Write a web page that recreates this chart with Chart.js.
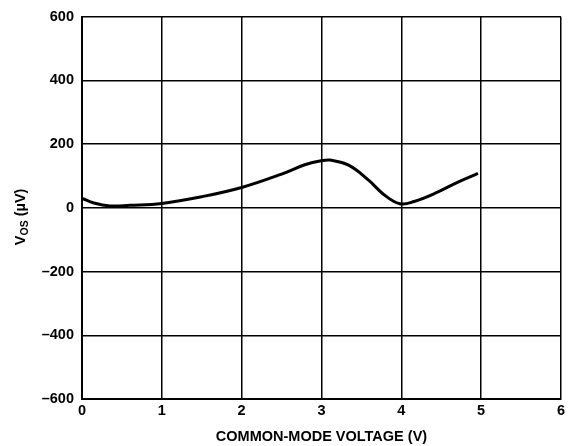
<!DOCTYPE html>
<html>
<head>
<meta charset="utf-8">
<script src="https://cdn.jsdelivr.net/npm/chart.js@4/dist/chart.umd.min.js"></script>
<style>
html,body{margin:0;padding:0;background:#fff;}
#wrap{width:568px;height:446px;position:relative;}
</style>
</head>
<body>
<div id="wrap"><canvas id="c" width="568" height="446"></canvas></div>
<script>
const xValues = [0, 0.15, 0.35, 0.6, 1.0, 1.5, 2.0, 2.5, 2.8, 3.0, 3.11, 3.34, 3.59, 3.78, 3.98, 4.16, 4.46, 4.71, 4.96];
const vosValues = [30, 15, 6, 8, 14, 35, 64, 106, 136, 148, 150, 134, 87, 42, 13, 20, 50, 81, 108];
const xTicks = [0, 1, 2, 3, 4, 5, 6];
const yTicks = [-600, -400, -200, 0, 200, 400, 600];
const xTitle = 'COMMON-MODE VOLTAGE (V)';

const FONT = '"Liberation Sans", Arial, sans-serif';

const yTitlePlugin = {
  id: 'yTitle',
  afterDraw(chart) {
    const ctx = chart.ctx;
    const ca = chart.chartArea;
    ctx.save();
    ctx.translate(25, (ca.top + ca.bottom) / 2 + 9);
    ctx.rotate(-Math.PI / 2);
    ctx.fillStyle = '#000';
    ctx.textBaseline = 'alphabetic';
    const big = 'bold 14.5px ' + FONT;
    const small = 'bold 10.5px ' + FONT;
    const parts = [['V', big, 0], ['OS', small, 3], [' (µV)', big, 0]];
    let total = 0;
    parts.forEach(p => { ctx.font = p[1]; total += ctx.measureText(p[0]).width; });
    let x = -total / 2;
    parts.forEach(p => {
      ctx.font = p[1];
      ctx.fillText(p[0], x, p[2]);
      x += ctx.measureText(p[0]).width;
    });
    ctx.restore();
  }
};

new Chart(document.getElementById('c'), {
  type: 'scatter',
  data: {
    datasets: [{
      data: xValues.map((x, i) => ({x: x, y: vosValues[i]})),
      showLine: true,
      borderColor: '#000',
      borderWidth: 3,
      pointRadius: 0,
      tension: 0.4,
      fill: false
    }]
  },
  options: {
    responsive: false,
    animation: false,
    devicePixelRatio: 1,
    layout: { padding: { top: 9, right: 0, left: 0, bottom: 0 } },
    plugins: { legend: { display: false }, tooltip: { enabled: false } },
    scales: {
      x: {
        type: 'linear',
        min: 0, max: 6,
        afterBuildTicks(s) { s.ticks = xTicks.map(v => ({value: v})); },
        afterFit(s) { s.height = 47; },
        grid: { color: '#000', lineWidth: 1.5, drawTicks: false },
        border: { color: '#000', width: 2 },
        ticks: { color: '#000', padding: 3, font: { family: FONT, size: 14.5, weight: 'bold' }, maxRotation: 0 },
        title: { display: true, text: xTitle, color: '#000', padding: { top: 4, bottom: 0 }, font: { family: FONT, size: 14.5, weight: 'bold' } }
      },
      y: {
        min: -600, max: 600,
        afterBuildTicks(s) { s.ticks = yTicks.map(v => ({value: v})); },
        afterFit(s) { s.width = 82; },
        grid: { color: '#000', lineWidth: 1.5, drawTicks: false },
        border: { color: '#000', width: 2 },
        ticks: {
          color: '#000', padding: 8,
          font: { family: FONT, size: 14.5, weight: 'bold' },
          callback: v => (v < 0 ? '\u2013' + Math.abs(v) : String(v))
        }
      }
    }
  },
  plugins: [yTitlePlugin]
});
</script>
</body>
</html>
